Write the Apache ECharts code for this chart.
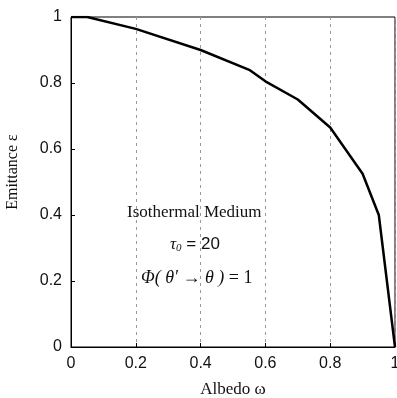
<!DOCTYPE html>
<html>
<head>
<meta charset="utf-8">
<script src="https://cdn.jsdelivr.net/npm/echarts@6/dist/echarts.min.js"></script>
<style>
  html, body { margin: 0; padding: 0; background: #fff; }
  #main { width: 397px; height: 398px; }
</style>
</head>
<body>
<div id="main"></div>
<script>
// albedo values and emittance
var albedo = [0, 0.05, 0.2, 0.4, 0.55, 0.6, 0.7, 0.8, 0.9, 0.95, 1];
var emittance = [1, 1, 0.964, 0.9, 0.84, 0.805, 0.75, 0.665, 0.525, 0.4, 0];
var xTicks = [0, 0.2, 0.4, 0.6, 0.8, 1];
var yTicks = [0, 0.2, 0.4, 0.6, 0.8, 1];

var points = albedo.map(function (a, i) { return [a, emittance[i]]; });

var chart = echarts.init(document.getElementById('main'));

var option = {
    animation: false,
    grid: {
        left: 71,
        right: 2,
        top: 17,
        bottom: 51,
        outerBoundsMode: 'none',
        containLabel: false,
        show: true,
        borderColor: '#000',
        borderWidth: 1
    },
    xAxis: {
        type: 'value',
        min: 0,
        max: 1,
        interval: 0.2,
        name: 'Albedo ω',
        nameLocation: 'middle',
        nameGap: 34,
        nameTextStyle: { fontFamily: 'Liberation Serif', fontSize: 17, color: '#111' },
        axisLine: { show: true, onZero: false, lineStyle: { color: '#000', width: 1 } },
        axisTick: { show: true, inside: true, length: 4, lineStyle: { color: '#000' } },
        axisLabel: {
            margin: 9,
            fontFamily: 'Liberation Sans',
            fontSize: 16,
            color: '#111',
            formatter: function (v) { return xTicks.indexOf(v) >= 0 ? String(v) : ''; }
        },
        splitLine: { show: true, lineStyle: { color: '#999', type: [3, 4], width: 1 } }
    },
    yAxis: {
        type: 'value',
        min: 0,
        max: 1,
        interval: 0.2,
        name: 'Emittance ε',
        nameLocation: 'middle',
        nameGap: 50,
        nameTextStyle: { fontFamily: 'Liberation Serif', fontSize: 16, color: '#111', padding: [0, 0, 0, 20] },
        axisLine: { show: true, lineStyle: { color: '#000', width: 1 } },
        axisTick: { show: true, inside: true, length: 4, lineStyle: { color: '#000' } },
        axisLabel: {
            margin: 9,
            fontFamily: 'Liberation Sans',
            fontSize: 16,
            color: '#111',
            formatter: function (v) { return yTicks.indexOf(v) >= 0 ? String(v) : ''; }
        },
        splitLine: { show: false }
    },
    graphic: [
        {
            type: 'text',
            left: 127, top: 204,
            style: { text: 'Isothermal Medium', font: '17px "Liberation Serif"', fill: '#111' }
        },
        {
            type: 'text',
            left: 170, top: 236,
            style: {
                text: '{t|τ}{s|0}{n| = 20}',
                rich: {
                    t: { font: 'italic 17px "Liberation Serif"', fill: '#111' },
                    s: { font: 'italic 11px "Liberation Serif"', fill: '#111', padding: [8, 0, 0, 0] },
                    n: { font: '17px "Liberation Sans"', fill: '#111' }
                }
            }
        },
        {
            type: 'text',
            left: 141, top: 269,
            style: {
                text: '{i|Φ( θ′ → θ )}{n| = 1}',
                rich: {
                    i: { font: 'italic 18px "Liberation Serif"', fill: '#111' },
                    n: { font: '18px "Liberation Serif"', fill: '#111' }
                }
            }
        }
    ],
    series: [{
        type: 'line',
        data: points,
        symbol: 'none',
        lineStyle: { color: '#000', width: 2.5 }
    }]
};

chart.setOption(option);
</script>
</body>
</html>
